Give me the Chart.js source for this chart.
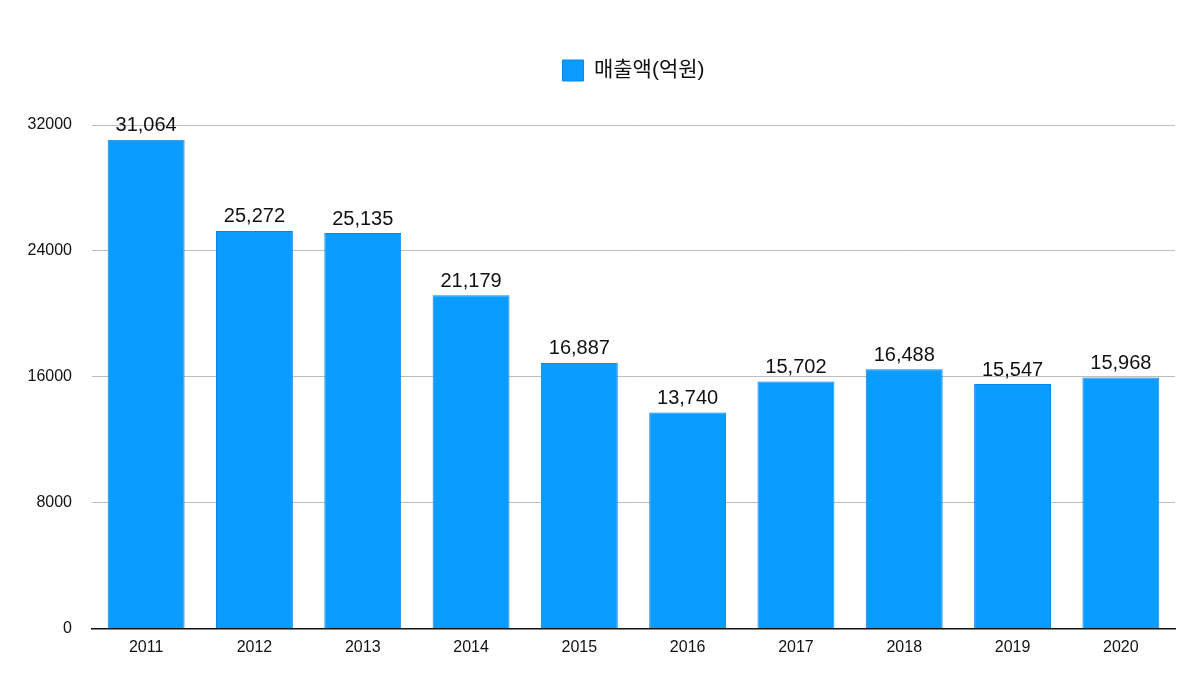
<!DOCTYPE html>
<html>
<head>
<meta charset="utf-8">
<script src="https://cdn.jsdelivr.net/npm/chart.js@4.4.0/dist/chart.umd.min.js"></script>
<style>
  html, body { margin: 0; padding: 0; background: #fff; }
  #wrap { width: 1200px; height: 699px; }
</style>
</head>
<body>
<div id="wrap"><canvas id="myChart"></canvas></div>
<script>
// data ======================================================
const years = ["2011", "2012", "2013", "2014", "2015", "2016", "2017", "2018", "2019", "2020"];
const sales = [31064, 25272, 25135, 21179, 16887, 13740, 15702, 16488, 15547, 15968];
const yTicks = [0, 8000, 16000, 24000, 32000];

const FONT = "'Liberation Sans', 'Noto Sans CJK KR', sans-serif";

// value labels over each bar
const barLabels = {
  id: "barLabels",
  afterDatasetsDraw(chart) {
    const ctx = chart.ctx;
    const meta = chart.getDatasetMeta(0);
    ctx.save();
    ctx.font = "20px " + FONT;
    ctx.fillStyle = "#111";
    ctx.textAlign = "center";
    ctx.textBaseline = "bottom";
    meta.data.forEach((bar, i) => {
      ctx.fillText(sales[i].toLocaleString("en-US"), bar.x, bar.y - 4);
    });
    ctx.restore();
  },
};

// extra room under the legend
const legendGap = {
  id: "legendGap",
  beforeInit(chart) {
    const fit = chart.legend.fit;
    chart.legend.fit = function () {
      fit.bind(chart.legend)();
      this.height += 34;
    };
  },
};

const data = {
  labels: years,
  datasets: [
    {
      label: "매출액(억원)",
      data: sales,
      backgroundColor: "#0a9cff",
      borderColor: "#0a86e6",
      borderWidth: 1,
      barPercentage: 0.71,
      categoryPercentage: 1.0,
    },
  ],
};

const config = {
  type: "bar",
  data: data,
  plugins: [barLabels, legendGap],
  options: {
    responsive: true,
    maintainAspectRatio: false,
    animation: false,
    layout: { padding: { top: 38, right: 25, left: 5, bottom: 33 } },
    plugins: {
      legend: {
        position: "top",
        fullSize: false,
        labels: {
          boxWidth: 21,
          boxHeight: 21,
          padding: 22,
          color: "#111",
          font: { size: 21, family: FONT },
        },
      },
      tooltip: { enabled: false },
    },
    scales: {
      x: {
        grid: { display: false, drawTicks: false },
        border: { display: true, color: "#111", width: 1.5 },
        ticks: { color: "#111", padding: 9, font: { size: 16, family: FONT } },
      },
      y: {
        min: 0,
        max: 32000,
        afterBuildTicks(axis) {
          axis.ticks = yTicks.map((v) => ({ value: v }));
        },
        afterFit(axis) {
          axis.width = 87;
        },
        grid: { color: "#bdbdbd", lineWidth: 1, drawTicks: false },
        border: { display: false },
        ticks: {
          color: "#111",
          padding: 20,
          font: { size: 16, family: FONT },
          callback: (v) => String(v),
        },
      },
    },
  },
};

const myChart = new Chart(document.getElementById("myChart"), config);
</script>
</body>
</html>
